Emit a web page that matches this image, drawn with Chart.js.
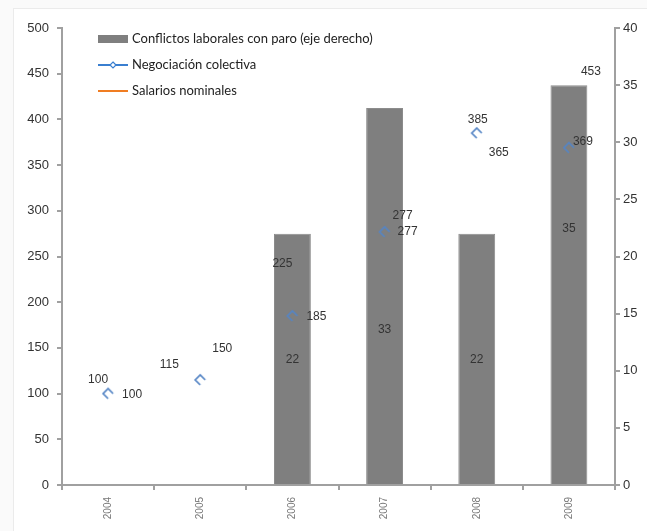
<!DOCTYPE html>
<html>
<head>
<meta charset="utf-8">
<script src="https://cdn.jsdelivr.net/npm/chart.js@4/dist/chart.umd.min.js"></script>
<style>
  html, body { margin: 0; padding: 0; background: #fafafa; }
  #wrap { position: relative; width: 647px; height: 531px; overflow: hidden; }
  #panel { position: absolute; left: 13px; top: 8px; width: 700px; height: 600px;
           background: #fff; border: 1px solid #ebebeb; }
  canvas { position: absolute; left: 0; top: 0; }
</style>
</head>
<body>
<div id="wrap">
  <div id="panel"></div>
  <canvas id="chart" width="647" height="531"></canvas>
</div>
<script>
// Years on the category axis
const years = ['2004', '2005', '2006', '2007', '2008', '2009'];
// Labour conflicts with strikes (right axis)
const conflictos = [null, null, 22, 33, 22, 35];
// Collective bargaining index (left axis)
const negociacion = [100, 115, 185, 277, 385, 369];
// Nominal wages index (left axis)
const salarios = [100, 150, 225, 277, 365, 453];

// Where each value label sits relative to its mark, in px [dx, dy]
const offsetsConflictos = [[0, 0], [0, 0], [0, 1], [0, 34], [0, 1], [0, -56]];
const offsetsNegociacion = [[24, 1], [-31, -15], [24, 1], [23, 0], [1, -13], [14, -6]];
const offsetsSalarios = [[-10, -14], [22, 1], [-10, -16], [18, -16], [22, 1], [22, 1]];

const BLUE = '#5585c5';
const ORANGE = '#f07d22';
const GREY_BAR = '#7f7f7f';
const AXIS = '#a0a0a0';

// Open, partly drawn diamond marker
function makeMarker() {
  const c = document.createElement('canvas');
  c.width = 16; c.height = 16;
  const g = c.getContext('2d');
  g.strokeStyle = BLUE;
  g.lineWidth = 1.7;
  g.beginPath();
  g.moveTo(13, 8);
  g.lineTo(8, 3);
  g.lineTo(3, 8);
  g.lineTo(8, 13);
  g.stroke();
  return c;
}
const marker = makeMarker();

const valueLabels = {
  id: 'valueLabels',
  afterDatasetsDraw(chart) {
    const ctx = chart.ctx;
    ctx.save();
    ctx.font = '12px "Liberation Sans", Arial, sans-serif';
    ctx.fillStyle = '#333';
    ctx.textAlign = 'center';
    ctx.textBaseline = 'middle';
    chart.data.datasets.forEach((ds, i) => {
      const meta = chart.getDatasetMeta(i);
      meta.data.forEach((el, j) => {
        const v = ds.data[j];
        if (v === null || v === undefined) return;
        let x = el.x, y = el.y;
        if (meta.type === 'bar') y = (el.y + el.base) / 2;
        const o = ds.labelOffsets[j];
        ctx.fillText(String(v), x + o[0], y + o[1]);
      });
    });
    ctx.restore();
  }
};

// Legend drawn inside the plot area, top left
const insideLegend = {
  id: 'insideLegend',
  afterDraw(chart) {
    const ctx = chart.ctx;
    const left = chart.chartArea.left + 36;
    const top = chart.chartArea.top + 11;
    const gap = 26;
    ctx.save();
    ctx.font = '13px Lato, "Open Sans", sans-serif';
    ctx.textBaseline = 'middle';
    ctx.textAlign = 'left';
    chart.data.datasets.forEach((ds, i) => {
      const y = top + i * gap;
      if (ds.type === 'bar') {
        ctx.fillStyle = GREY_BAR;
        ctx.fillRect(left, y - 4, 30, 8);
      } else {
        ctx.strokeStyle = ds.legendColor;
        ctx.lineWidth = 2;
        ctx.beginPath();
        ctx.moveTo(left, y);
        ctx.lineTo(left + 30, y);
        ctx.stroke();
        if (ds.legendMarker) {
          ctx.fillStyle = '#fff';
          ctx.lineWidth = 1.2;
          ctx.beginPath();
          ctx.moveTo(left + 15, y - 3);
          ctx.lineTo(left + 18, y);
          ctx.lineTo(left + 15, y + 3);
          ctx.lineTo(left + 12, y);
          ctx.closePath();
          ctx.fill();
          ctx.stroke();
        }
      }
      ctx.fillStyle = '#222';
      ctx.fillText(ds.label, left + 34, y);
    });
    ctx.restore();
  }
};

Chart.defaults.font.family = '"Liberation Sans", Arial, sans-serif';

new Chart(document.getElementById('chart'), {
  data: {
    labels: years,
    datasets: [
      {
        type: 'bar',
        label: 'Conflictos laborales con paro (eje derecho)',
        data: conflictos,
        yAxisID: 'y1',
        backgroundColor: GREY_BAR,
        borderColor: '#8c8c8c',
        borderWidth: 1,
        barPercentage: 0.4,
        categoryPercentage: 1,
        order: 2,
        labelOffsets: offsetsConflictos
      },
      {
        type: 'line',
        label: 'Negociación colectiva',
        data: negociacion,
        yAxisID: 'y',
        showLine: false,
        pointStyle: marker,
        pointRadius: 5,
        legendColor: '#3a7fd0',
        legendMarker: true,
        order: 1,
        labelOffsets: offsetsNegociacion
      },
      {
        type: 'line',
        label: 'Salarios nominales',
        data: salarios,
        yAxisID: 'y',
        showLine: false,
        pointRadius: 0,
        legendColor: ORANGE,
        order: 1,
        labelOffsets: offsetsSalarios
      }
    ]
  },
  options: {
    responsive: false,
    animation: false,
    devicePixelRatio: 1,
    layout: { padding: { top: 28, left: 0, right: 0, bottom: 0 } },
    plugins: {
      legend: { display: false },
      tooltip: { enabled: false }
    },
    scales: {
      x: {
        type: 'category',
        offset: true,
        grid: { display: true, drawOnChartArea: false, offset: true, tickLength: 5, color: AXIS, lineWidth: 2 },
        border: { color: AXIS, width: 2 },
        ticks: { minRotation: 90, maxRotation: 90, font: { size: 10 }, color: '#777', padding: 7 },
        afterFit: s => { s.height = 46; }
      },
      y: {
        position: 'left',
        min: 0, max: 500,
        ticks: { stepSize: 50, font: { size: 13 }, color: '#333', padding: 8 },
        grid: { drawOnChartArea: false, tickLength: 5, color: AXIS, lineWidth: 2 },
        border: { color: AXIS, width: 2 },
        afterFit: s => { s.width = 62; }
      },
      y1: {
        position: 'right',
        min: 0, max: 40,
        ticks: { stepSize: 5, font: { size: 13 }, color: '#333', padding: 3 },
        grid: { drawOnChartArea: false, tickLength: 5, color: AXIS, lineWidth: 2 },
        border: { color: AXIS, width: 2 },
        afterFit: s => { s.width = 32; }
      }
    }
  },
  plugins: [valueLabels, insideLegend]
});
</script>
</body>
</html>
